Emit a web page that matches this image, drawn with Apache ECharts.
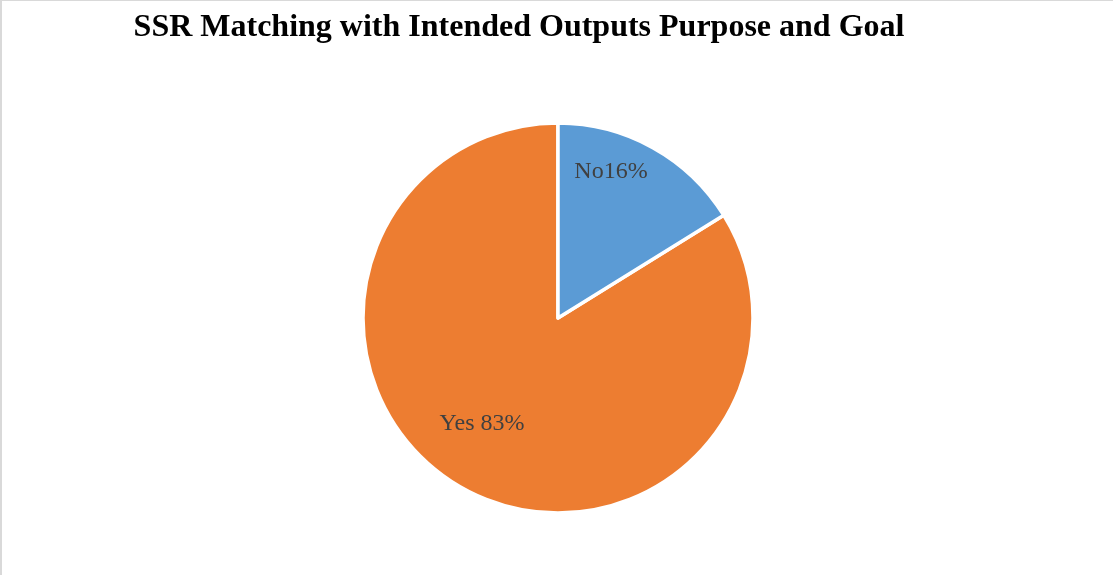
<!DOCTYPE html>
<html>
<head>
<meta charset="utf-8">
<script src="https://cdn.jsdelivr.net/npm/echarts@6/dist/echarts.min.js"></script>
<style>
  html, body { margin: 0; padding: 0; background: #fff; }
  #chart { width: 1113px; height: 575px; box-sizing: border-box;
           border-top: 1px solid #d9d9d9; border-left: 2px solid #d9d9d9; }
</style>
</head>
<body>
<div id="chart"></div>
<script>
// Survey answers
const categories = ['Yes', 'No'];
const values = [83, 16];
const labelTexts = ['Yes 83%', 'No16%'];
const colors = ['#ED7D31', '#5B9BD5'];

const chart = echarts.init(document.getElementById('chart'));

// label anchor points (pixel positions inside each slice)
const labelSpots = { Yes: [480, 423], No: [609, 171] };

chart.setOption({
  animation: false,
  title: {
    text: 'SSR Matching with Intended Outputs Purpose and Goal',
    left: 512,
    textAlign: 'center',
    top: 6,
    textStyle: {
      fontFamily: 'Liberation Serif',
      fontWeight: 'bold',
      fontSize: 32,
      color: '#000'
    }
  },
  series: [{
    type: 'pie',
    center: [556, 317],
    radius: 195,
    startAngle: 90,
    clockwise: false,
    data: categories.map((c, i) => ({
      name: c,
      value: values[i],
      itemStyle: { color: colors[i] },
      label: { formatter: labelTexts[i] }
    })),
    itemStyle: { borderColor: '#fff', borderWidth: 3.5 },
    label: {
      show: true,
      position: 'inside',
      fontFamily: 'Liberation Serif',
      fontSize: 24,
      color: '#404040'
    },
    labelLine: { show: false },
    labelLayout: function (p) {
      const s = labelSpots[categories[p.dataIndex]];
      return { x: s[0], y: s[1], align: 'center', verticalAlign: 'middle' };
    },
    emphasis: { disabled: true }
  }]
});
</script>
</body>
</html>
